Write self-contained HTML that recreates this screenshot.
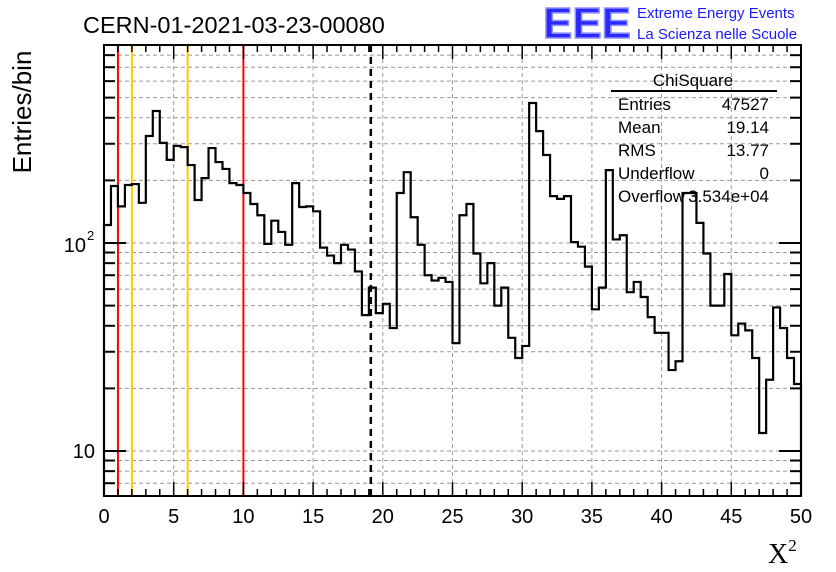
<!DOCTYPE html>
<html><head><meta charset="utf-8"><style>
body{margin:0;background:#fff;width:836px;height:572px;overflow:hidden}
svg{display:block;font-family:"Liberation Sans",sans-serif}
</style></head><body>
<svg id="c" width="836" height="572">
<g id="grid"></g>
<g id="marks"></g>
<g id="axes"></g>
<text x="83" y="33" font-size="23.5">CERN-01-2021-03-23-00080</text>
<g>
<text x="543" y="38" font-size="44" font-weight="bold" fill="#2a2aff" stroke="#9090ff" stroke-width="1.5" textLength="88" lengthAdjust="spacingAndGlyphs">EEE</text>
<text x="637" y="18" font-size="15" fill="#1a1aff">Extreme Energy Events</text>
<text x="637" y="39" font-size="15" fill="#1a1aff">La Scienza nelle Scuole</text>
</g>
<text transform="translate(31,112) rotate(-90)" font-size="26" text-anchor="middle">Entries/bin</text>
<text x="768" y="563" font-size="28" font-family="'Liberation Serif',serif">X<tspan font-size="17" dy="-12">2</tspan></text>
<g font-size="17">
<text x="693" y="86" text-anchor="middle">ChiSquare</text>
<line x1="611" y1="91" x2="777" y2="91" stroke="#000" stroke-width="2"/>
<text x="618" y="110">Entries</text><text x="769" y="110" text-anchor="end">47527</text>
<text x="618" y="133">Mean</text><text x="769" y="133" text-anchor="end">19.14</text>
<text x="618" y="156">RMS</text><text x="769" y="156" text-anchor="end">13.77</text>
<text x="618" y="179">Underflow</text><text x="769" y="179" text-anchor="end">0</text>
<text x="618" y="202">Overflow</text><text x="769" y="202" text-anchor="end">3.534e+04</text>
</g>
</svg>
<script>
const counts=[122,188,150,190,192,156,327,431,303,251,293,289,237,161,205,286,245,227,194,190,
174,154,136,99,128,113,98,194,149,150,142,95,87,80,98,93,73,45,61,46,
51,39,174,219,133,98,70,66,68,65,33,136,154,89,64,80,50,61,35,28,
32,471,345,265,168,163,168,101,96,77,48,61,224,104,109,58,65,55,44,37,
37,24.5,27,174,174,125,89,50,50,71,36,41,38,28,12.2,22,49,39,28,21];
const xTicks=[0,5,10,15,20,25,30,35,40,45,50];
const redLines=[1,10];
const orangeLines=[2,6];
const meanValue=[19.14];
const X0=104,X1=801,Y0=496,Y1=45;
const xs=v=>X0+(X1-X0)*v/50;
const ys=v=>451-208*(Math.log10(v)-1);
const NS='http://www.w3.org/2000/svg';
function mk(t,a,p){const e=document.createElementNS(NS,t);for(const k in a)e.setAttribute(k,a[k]);p.appendChild(e);return e;}
const grid=document.getElementById('grid'),marks=document.getElementById('marks'),axes=document.getElementById('axes');
xTicks.slice(1,-1).forEach(t=>{const l=mk('line',{x1:xs(t),x2:xs(t),y1:Y1,y2:Y0,stroke:'#999','stroke-dasharray':'4,3'},grid);

});
const yGrid=[7,8,9,10,20,30,40,50,60,70,80,90,100,200,300,400,500,600,700,800];
yGrid.forEach(v=>{const y=ys(v);const l=mk('line',{x1:X0,x2:X1,y1:y,y2:y,stroke:'#999','stroke-dasharray':'4,3'},grid);


const major=(v===10||v===100);
mk('line',{x1:X0,x2:X0+(major?22:11),y1:y,y2:y,stroke:'#000','stroke-width':2},axes);
mk('line',{x1:X1,x2:X1-(major?22:11),y1:y,y2:y,stroke:'#000','stroke-width':2},axes);});
redLines.forEach(v=>{const l=mk('line',{x1:xs(v),x2:xs(v),y1:Y1,y2:Y0,stroke:'#f00','stroke-width':2},marks);

});
orangeLines.forEach(v=>{const l=mk('line',{x1:xs(v),x2:xs(v),y1:Y1,y2:Y0,stroke:'#fc0','stroke-width':2},marks);

});
meanValue.forEach(v=>{const l=mk('line',{x1:xs(v),x2:xs(v),y1:Y1,y2:Y0,stroke:'#000','stroke-width':2.5,'stroke-dasharray':'7,5'},marks);

});
const bw=50/counts.length;let d='M'+xs(0)+','+Y0;
counts.forEach((c,i)=>{const y=Math.min(Y0,ys(c));d+=' L'+xs(i*bw)+','+y+' L'+xs((i+1)*bw)+','+y;});
d+=' L'+xs(50)+','+Y0;
const h=mk('path',{d:d,fill:'none',stroke:'#000','stroke-width':2.2},marks);


mk('rect',{x:X0,y:Y1,width:X1-X0,height:Y0-Y1,fill:'none',stroke:'#000','stroke-width':2},axes);
for(let v=0;v<=50;v+=1){const x=xs(v);const L=(v%5===0)?14:7;
mk('line',{x1:x,x2:x,y1:Y0,y2:Y0-L,stroke:'#000','stroke-width':1.5},axes);
mk('line',{x1:x,x2:x,y1:Y1,y2:Y1+L,stroke:'#000','stroke-width':1.5},axes);}
xTicks.forEach(t=>{const e=mk('text',{x:xs(t),y:523,'font-size':20,'text-anchor':'middle'},axes);e.textContent=t;

});
const t10=mk('text',{x:95,y:458,'font-size':20,'text-anchor':'end'},axes);t10.textContent='10';


const t100=mk('text',{x:86,y:252,'font-size':20,'text-anchor':'end'},axes);t100.textContent='10';


const sup=mk('text',{x:87,y:240,'font-size':13},axes);sup.textContent='2';


</script>
</body></html>
